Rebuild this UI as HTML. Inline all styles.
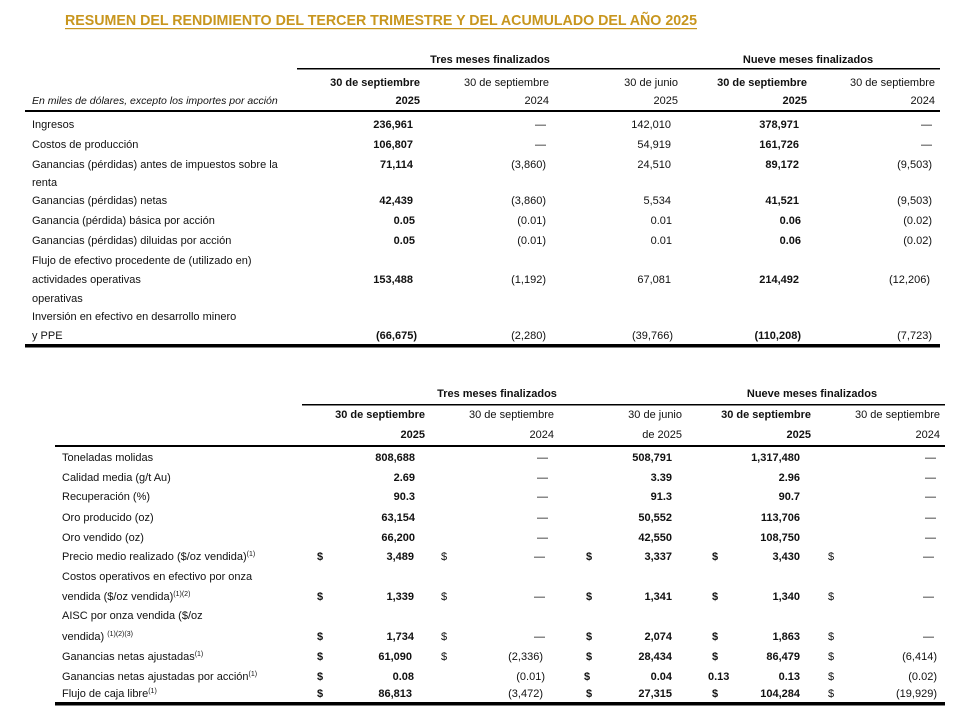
<!DOCTYPE html>
<html><head><meta charset="utf-8"><style>
html,body{margin:0;padding:0;background:#fff;}
svg{display:block;font-family:"Liberation Sans",sans-serif;}
text{font-size:11px;fill:#111;}
.b{font-weight:bold;}
.e{text-anchor:end;}
.m{text-anchor:middle;}
</style></head><body>
<svg width="961" height="712" viewBox="0 0 961 712" xmlns="http://www.w3.org/2000/svg">
<text x="65" y="25" textLength="632" lengthAdjust="spacingAndGlyphs" style="font-size:15px;font-weight:bold;fill:#c8961e;">RESUMEN DEL RENDIMIENTO DEL TERCER TRIMESTRE Y DEL ACUMULADO DEL AÑO 2025</text>
<rect x="65" y="28" width="632" height="1.2" fill="#c8961e"/>

<!-- Table 1 -->
<text class="b m" x="490" y="63">Tres meses finalizados</text>
<text class="b m" x="808" y="63">Nueve meses finalizados</text>
<rect x="297" y="68" width="643" height="1.5" fill="#000"/>
<text class="b e" x="420" y="86">30 de septiembre</text>
<text class="e" x="549" y="86">30 de septiembre</text>
<text class="e" x="678" y="86">30 de junio</text>
<text class="b e" x="807" y="86">30 de septiembre</text>
<text class="e" x="935" y="86">30 de septiembre</text>
<text x="32" y="104" style="font-style:italic;font-size:10.5px">En miles de dólares, excepto los importes por acción</text>
<text class="b e" x="420" y="104">2025</text>
<text class="e" x="549" y="104">2024</text>
<text class="e" x="678" y="104">2025</text>
<text class="b e" x="807" y="104">2025</text>
<text class="e" x="935" y="104">2024</text>
<rect x="25" y="110" width="915" height="2" fill="#000"/>

<text x="32" y="128">Ingresos</text>
<text class="b e" x="413" y="128">236,961</text><text class="e" x="546" y="128">—</text><text class="e" x="671" y="128">142,010</text><text class="b e" x="799" y="128">378,971</text><text class="e" x="932" y="128">—</text>
<text x="32" y="148">Costos de producción</text>
<text class="b e" x="413" y="148">106,807</text><text class="e" x="546" y="148">—</text><text class="e" x="671" y="148">54,919</text><text class="b e" x="799" y="148">161,726</text><text class="e" x="932" y="148">—</text>
<text x="32" y="168">Ganancias (pérdidas) antes de impuestos sobre la</text>
<text x="32" y="186">renta</text>
<text class="b e" x="413" y="168">71,114</text><text class="e" x="546" y="168">(3,860)</text><text class="e" x="671" y="168">24,510</text><text class="b e" x="799" y="168">89,172</text><text class="e" x="932" y="168">(9,503)</text>
<text x="32" y="204">Ganancias (pérdidas) netas</text>
<text class="b e" x="413" y="204">42,439</text><text class="e" x="546" y="204">(3,860)</text><text class="e" x="671" y="204">5,534</text><text class="b e" x="799" y="204">41,521</text><text class="e" x="932" y="204">(9,503)</text>
<text x="32" y="224">Ganancia (pérdida) básica por acción</text>
<text class="b e" x="415" y="224">0.05</text><text class="e" x="546" y="224">(0.01)</text><text class="e" x="672" y="224">0.01</text><text class="b e" x="801" y="224">0.06</text><text class="e" x="932" y="224">(0.02)</text>
<text x="32" y="244">Ganancias (pérdidas) diluidas por acción</text>
<text class="b e" x="415" y="244">0.05</text><text class="e" x="546" y="244">(0.01)</text><text class="e" x="672" y="244">0.01</text><text class="b e" x="801" y="244">0.06</text><text class="e" x="932" y="244">(0.02)</text>
<text x="32" y="264">Flujo de efectivo procedente de (utilizado en)</text>
<text x="32" y="283">actividades operativas</text>
<text x="32" y="302">operativas</text>
<text class="b e" x="413" y="283">153,488</text><text class="e" x="546" y="283">(1,192)</text><text class="e" x="671" y="283">67,081</text><text class="b e" x="799" y="283">214,492</text><text class="e" x="930" y="283">(12,206)</text>
<text x="32" y="320">Inversión en efectivo en desarrollo minero</text>
<text x="32" y="339">y PPE</text>
<text class="b e" x="417" y="339">(66,675)</text><text class="e" x="546" y="339">(2,280)</text><text class="e" x="673" y="339">(39,766)</text><text class="b e" x="801" y="339">(110,208)</text><text class="e" x="932" y="339">(7,723)</text>
<rect x="25" y="344" width="915" height="3.5" fill="#000"/>

<!-- Table 2 -->
<text class="b m" x="497" y="397">Tres meses finalizados</text>
<text class="b m" x="812" y="397">Nueve meses finalizados</text>
<rect x="302" y="404" width="643" height="1.5" fill="#000"/>
<text class="b e" x="425" y="418">30 de septiembre</text>
<text class="e" x="554" y="418">30 de septiembre</text>
<text class="e" x="682" y="418">30 de junio</text>
<text class="b e" x="811" y="418">30 de septiembre</text>
<text class="e" x="940" y="418">30 de septiembre</text>
<text class="b e" x="425" y="438">2025</text>
<text class="e" x="554" y="438">2024</text>
<text class="e" x="682" y="438">de 2025</text>
<text class="b e" x="811" y="438">2025</text>
<text class="e" x="940" y="438">2024</text>
<rect x="55" y="445" width="890" height="2" fill="#000"/>

<g>
<text x="62" y="461">Toneladas molidas</text>
<text class="b e" x="415" y="461">808,688</text><text class="e" x="548" y="461">—</text><text class="b e" x="672" y="461">508,791</text><text class="b e" x="800" y="461">1,317,480</text><text class="e" x="936" y="461">—</text>
<text x="62" y="481">Calidad media (g/t Au)</text>
<text class="b e" x="415" y="481">2.69</text><text class="e" x="548" y="481">—</text><text class="b e" x="672" y="481">3.39</text><text class="b e" x="800" y="481">2.96</text><text class="e" x="936" y="481">—</text>
<text x="62" y="500">Recuperación (%)</text>
<text class="b e" x="415" y="500">90.3</text><text class="e" x="548" y="500">—</text><text class="b e" x="672" y="500">91.3</text><text class="b e" x="800" y="500">90.7</text><text class="e" x="936" y="500">—</text>
<text x="62" y="521">Oro producido (oz)</text>
<text class="b e" x="415" y="521">63,154</text><text class="e" x="548" y="521">—</text><text class="b e" x="672" y="521">50,552</text><text class="b e" x="800" y="521">113,706</text><text class="e" x="936" y="521">—</text>
<text x="62" y="541">Oro vendido (oz)</text>
<text class="b e" x="415" y="541">66,200</text><text class="e" x="548" y="541">—</text><text class="b e" x="672" y="541">42,550</text><text class="b e" x="800" y="541">108,750</text><text class="e" x="936" y="541">—</text>
<text x="62" y="560">Precio medio realizado ($/oz vendida)<tspan dy="-4" style="font-size:7px">(1)</tspan></text>
<text x="62" y="580">Costos operativos en efectivo por onza</text>
<text x="62" y="600">vendida ($/oz vendida)<tspan dy="-4" style="font-size:7px">(1)(2)</tspan></text>
<text x="62" y="619">AISC por onza vendida ($/oz</text>
<text x="62" y="640">vendida) <tspan dy="-4" style="font-size:7px">(1)(2)(3)</tspan></text>
<text x="62" y="660">Ganancias netas ajustadas<tspan dy="-4" style="font-size:7px">(1)</tspan></text>
<text x="62" y="680">Ganancias netas ajustadas por acción<tspan dy="-4" style="font-size:7px">(1)</tspan></text>
<text x="62" y="697">Flujo de caja libre<tspan dy="-4" style="font-size:7px">(1)</tspan></text>
</g>

<g>
<text class="b" x="317" y="560">$</text><text class="b e" x="414" y="560">3,489</text><text x="441" y="560">$</text><text class="e" x="545" y="560">—</text><text class="b" x="586" y="560">$</text><text class="b e" x="672" y="560">3,337</text><text class="b" x="712" y="560">$</text><text class="b e" x="800" y="560">3,430</text><text x="828" y="560">$</text><text class="e" x="934" y="560">—</text>
<text class="b" x="317" y="600">$</text><text class="b e" x="414" y="600">1,339</text><text x="441" y="600">$</text><text class="e" x="545" y="600">—</text><text class="b" x="586" y="600">$</text><text class="b e" x="672" y="600">1,341</text><text class="b" x="712" y="600">$</text><text class="b e" x="800" y="600">1,340</text><text x="828" y="600">$</text><text class="e" x="934" y="600">—</text>
<text class="b" x="317" y="640">$</text><text class="b e" x="414" y="640">1,734</text><text x="441" y="640">$</text><text class="e" x="545" y="640">—</text><text class="b" x="586" y="640">$</text><text class="b e" x="672" y="640">2,074</text><text class="b" x="712" y="640">$</text><text class="b e" x="800" y="640">1,863</text><text x="828" y="640">$</text><text class="e" x="934" y="640">—</text>
<text class="b" x="317" y="660">$</text><text class="b e" x="412" y="660">61,090</text><text x="441" y="660">$</text><text class="e" x="543" y="660">(2,336)</text><text class="b" x="586" y="660">$</text><text class="b e" x="672" y="660">28,434</text><text class="b" x="712" y="660">$</text><text class="b e" x="800" y="660">86,479</text><text x="828" y="660">$</text><text class="e" x="937" y="660">(6,414)</text>
<text class="b" x="317" y="680">$</text><text class="b e" x="414" y="680">0.08</text><text class="e" x="545" y="680">(0.01)</text><text class="b" x="584" y="680">$</text><text class="b e" x="672" y="680">0.04</text><text class="b" x="708" y="680">0.13</text><text class="b e" x="800" y="680">0.13</text><text x="828" y="680">$</text><text class="e" x="937" y="680">(0.02)</text>
<text class="b" x="317" y="697">$</text><text class="b e" x="412" y="697">86,813</text><text class="e" x="543" y="697">(3,472)</text><text class="b" x="586" y="697">$</text><text class="b e" x="672" y="697">27,315</text><text class="b" x="712" y="697">$</text><text class="b e" x="800" y="697">104,284</text><text x="828" y="697">$</text><text class="e" x="937" y="697">(19,929)</text>
</g>
<rect x="55" y="702" width="890" height="3.5" fill="#000"/>
</svg>
</body></html>
